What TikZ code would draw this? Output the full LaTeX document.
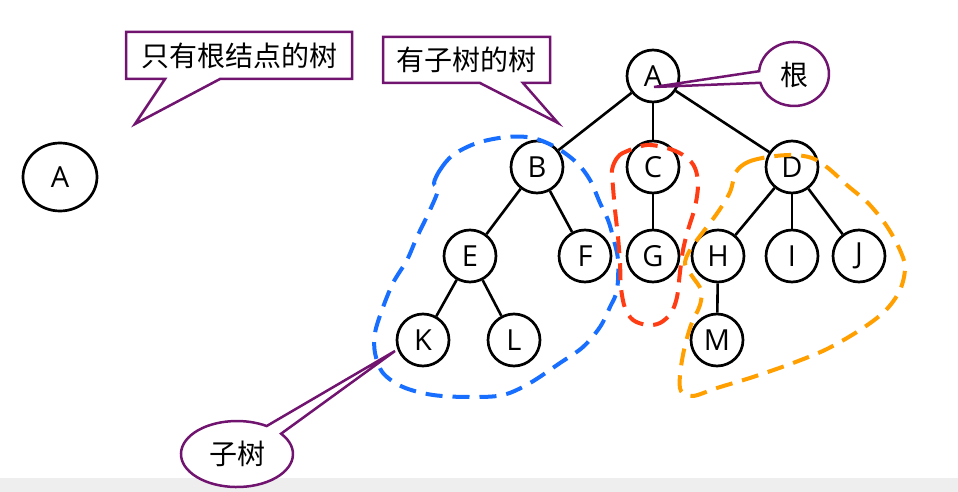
\documentclass[tikz,border=0pt]{standalone}
\usepackage{fontspec}
\setmainfont{Open Sans}
\newfontfamily\cjk{Noto Sans CJK SC}
\usetikzlibrary{shapes.geometric}
\definecolor{cpurple}{RGB}{112,20,112}
\definecolor{sblue}{RGB}{24,110,255}
\definecolor{sred}{RGB}{255,61,20}
\definecolor{sorange}{RGB}{255,160,0}
\definecolor{stripgray}{RGB}{238,238,238}
\begin{document}
\begin{tikzpicture}[x=1pt,y=-1pt,
  tnode/.style={circle,draw=black,line width=2.7pt,fill=white,minimum size=52pt,inner sep=0pt,font=\fontsize{29}{31}\selectfont},
  edge/.style={draw=black,line width=2.6pt},
  callout/.style={draw=cpurple,line width=2.5pt,fill=white,line join=miter},
  ctext/.style={font=\cjk\fontsize{28}{32}\selectfont,inner sep=0pt},
  subtree/.style={line width=4pt,dash pattern=on 17pt off 10pt}]
\useasboundingbox (0,0) rectangle (958,492);
\fill[stripgray] (0,478) rectangle (958,492);

% lone root
\node[tnode,ellipse,minimum width=74pt,minimum height=68pt] (lone) at (60,177) {A};

% tree nodes
\node[tnode] (A) at (653,76) {A};
\node[tnode] (B) at (537,167) {B};
\node[tnode] (C) at (653,167) {C};
\node[tnode] (D) at (792,167) {D};
\node[tnode] (E) at (470,256) {E};
\node[tnode] (F) at (585,256) {F};
\node[tnode] (G) at (653,256) {G};
\node[tnode] (H) at (718,256) {H};
\node[tnode] (I) at (792,256) {I};
\node[tnode] (J) at (859,256) {J};
\node[tnode] (K) at (423,340) {K};
\node[tnode] (L) at (514,340) {L};
\node[tnode] (M) at (717,340) {M};

\foreach \u/\v in {A/B,A/C,A/D,B/E,B/F,C/G,D/H,D/I,D/J,E/K,E/L,H/M}
  \draw[edge] (\u) -- (\v);

% subtree outlines
\draw[subtree,sblue] plot[smooth cycle,tension=0.55] coordinates {
 (434,183) (440,170) (453,155) (477,143) (507,137) (533,138) (557,148) (577,163)
 (590,180) (600,203) (608,220) (613,237) (618,260) (617,290) (610,307) (600,327)
 (583,347) (560,363) (530,383) (503,395) (470,397) (433,395) (403,387) (383,373)
 (375,353) (375,333) (382,310) (393,283) (407,260) (417,237) (430,210) (438,190)};
\draw[subtree,sred] plot[smooth cycle,tension=0.55] coordinates {
 (612,170) (617,158) (625,152) (647,145) (670,149) (686,157) (695,168) (698,185)
 (695,207) (688,230) (683,250) (680,272) (677,297) (671,313) (660,323) (647,325)
 (633,320) (625,308) (621,288) (620,263) (618,237) (615,210) (613,187)};
\draw[subtree,sorange] plot[smooth cycle,tension=0.55] coordinates {
 (736,172) (748,162) (768,157) (792,155) (812,158) (828,168) (848,186) (868,203)
 (886,225) (899,248) (905,267) (900,290) (885,311) (860,330) (827,349) (793,363)
 (753,377) (717,388) (693,396) (681,391) (680,375) (684,350) (691,325) (700,305)
 (701,290) (692,276) (685,264) (690,250) (703,232) (718,212) (730,192)};

% callouts
\coordinate (tipOne) at (135,124);
\coordinate (tipTwo) at (558,123);
\coordinate (tipRoot) at (654,87);
\coordinate (tipSub) at (395,351);
\draw[callout] (126,32) -- (352,32) -- (352,79) -- (220,79) -- (tipOne) -- (165,79) -- (126,79) -- cycle;
\node[ctext] (t1) at (239,56) {只有根结点的树};
\draw[callout] (383,37) -- (550,37) -- (550,83) -- (523,83) -- (tipTwo) -- (480,83) -- (383,83) -- cycle;
\node[ctext] (t2) at (466,60) {有子树的树};
\draw[callout] (tipRoot) -- (759.1,71.2) arc[start angle=185,end angle=524,x radius=35,y radius=32] -- cycle;
\node[ctext] (t3) at (794,75) {根};
\draw[callout] (tipSub) -- (281.1,433.7) arc[start angle=322,end angle=662,x radius=56,y radius=33] -- cycle;
\node[ctext] (t4) at (237,454) {子树};
\end{tikzpicture}
\end{document}
